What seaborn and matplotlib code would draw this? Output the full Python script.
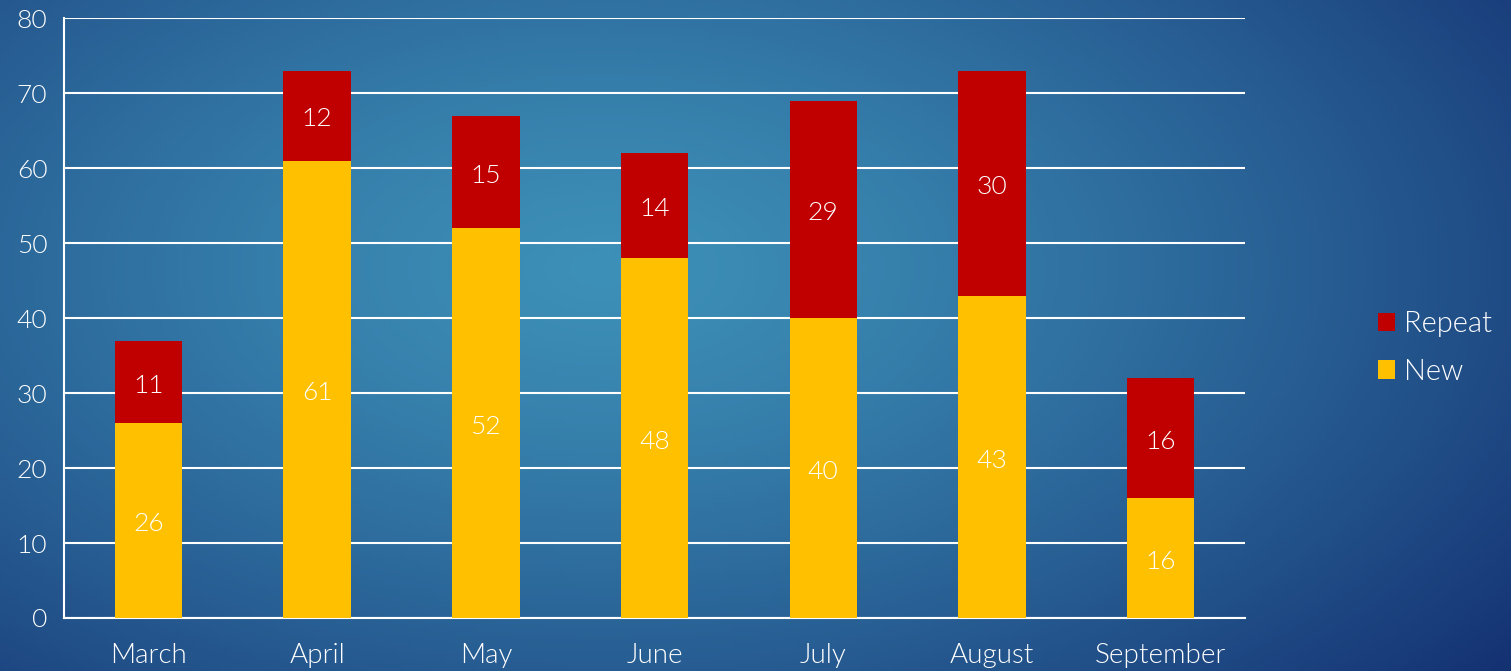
import numpy as np
import pandas as pd
import matplotlib.pyplot as plt
import seaborn as sns

months = ["March", "April", "May", "June", "July", "August", "September"]
new_vals = [26, 61, 52, 48, 40, 43, 16]
repeat_vals = [11, 12, 15, 14, 29, 30, 16]

df = pd.DataFrame({"Month": months, "New": new_vals, "Repeat": repeat_vals})
df["Total"] = df["New"] + df["Repeat"]

sns.set_style("white")
plt.rcParams["font.family"] = ["Lato", "DejaVu Sans"]
plt.rcParams["font.weight"] = 300

fig = plt.figure(figsize=(15.11, 6.71), dpi=100)

# radial blue background
bg = fig.add_axes([0, 0, 1, 1], zorder=-10)
xx, yy = np.meshgrid(np.linspace(0, 1, 400), np.linspace(0, 1, 200))
r = np.sqrt(((xx - 0.4) / 0.8) ** 2 + ((yy - 0.6) / 1.0) ** 2)
r = np.clip(r, 0, 1) ** 1.3
c_in = np.array([0x3d, 0x90, 0xb8]) / 255
c_out = np.array([0x12, 0x2c, 0x6e]) / 255
img = c_in[None, None, :] * (1 - r[..., None]) + c_out[None, None, :] * r[..., None]
bg.imshow(img, origin="lower", extent=[0, 1, 0, 1], aspect="auto")
bg.axis("off")

ax = fig.add_axes([0.0424, 0.079, 0.7816, 0.894])
ax.patch.set_alpha(0)

sns.barplot(data=df, x="Month", y="Total", color="#C00000", width=0.4,
            saturation=1, linewidth=0, ax=ax, label="Repeat", zorder=3)
sns.barplot(data=df, x="Month", y="New", color="#FFC000", width=0.4,
            saturation=1, linewidth=0, ax=ax, label="New", zorder=3)

for i in range(len(months)):
    ax.text(i, new_vals[i] / 2 - 0.5, str(new_vals[i]), ha="center", va="center",
            color="white", fontsize=19, zorder=5)
    ax.text(i, new_vals[i] + repeat_vals[i] / 2 - 0.5, str(repeat_vals[i]),
            ha="center", va="center", color="white", fontsize=19, zorder=5)

ax.set_ylim(0, 80)
ax.set_xlim(-0.5, len(months) - 0.5)
ax.set_yticks(range(0, 81, 10))
ax.yaxis.grid(True, color="white", linewidth=1.5, zorder=0)
ax.set_axisbelow(True)
ax.set_xlabel("")
ax.set_ylabel("")

for s in ["top", "right"]:
    ax.spines[s].set_visible(False)
for s in ["left", "bottom"]:
    ax.spines[s].set_color("white")
    ax.spines[s].set_linewidth(1.5)

ax.set_xticks(np.arange(-0.5, len(months), 1), minor=False)
ax.set_xticklabels([])
ax.set_xticks(range(len(months)), minor=True)
ax.set_xticklabels(months, minor=True)
ax.tick_params(axis="x", which="major", direction="out", length=9, width=1.5,
               color="white")
ax.tick_params(axis="x", which="minor", length=0, pad=18, labelsize=20,
               labelcolor="white")
ax.tick_params(axis="y", direction="out", length=8, width=1.5, color="white",
               labelsize=19, labelcolor="white", pad=4)

handles, labels = ax.get_legend_handles_labels()
leg = ax.legend(handles, labels, loc="center left", bbox_to_anchor=(1.09, 0.45),
                frameon=False, fontsize=21, labelcolor="white",
                handlelength=0.6, handleheight=0.6, handletextpad=0.3,
                labelspacing=0.75)

fig.savefig("out.png", dpi=100)
